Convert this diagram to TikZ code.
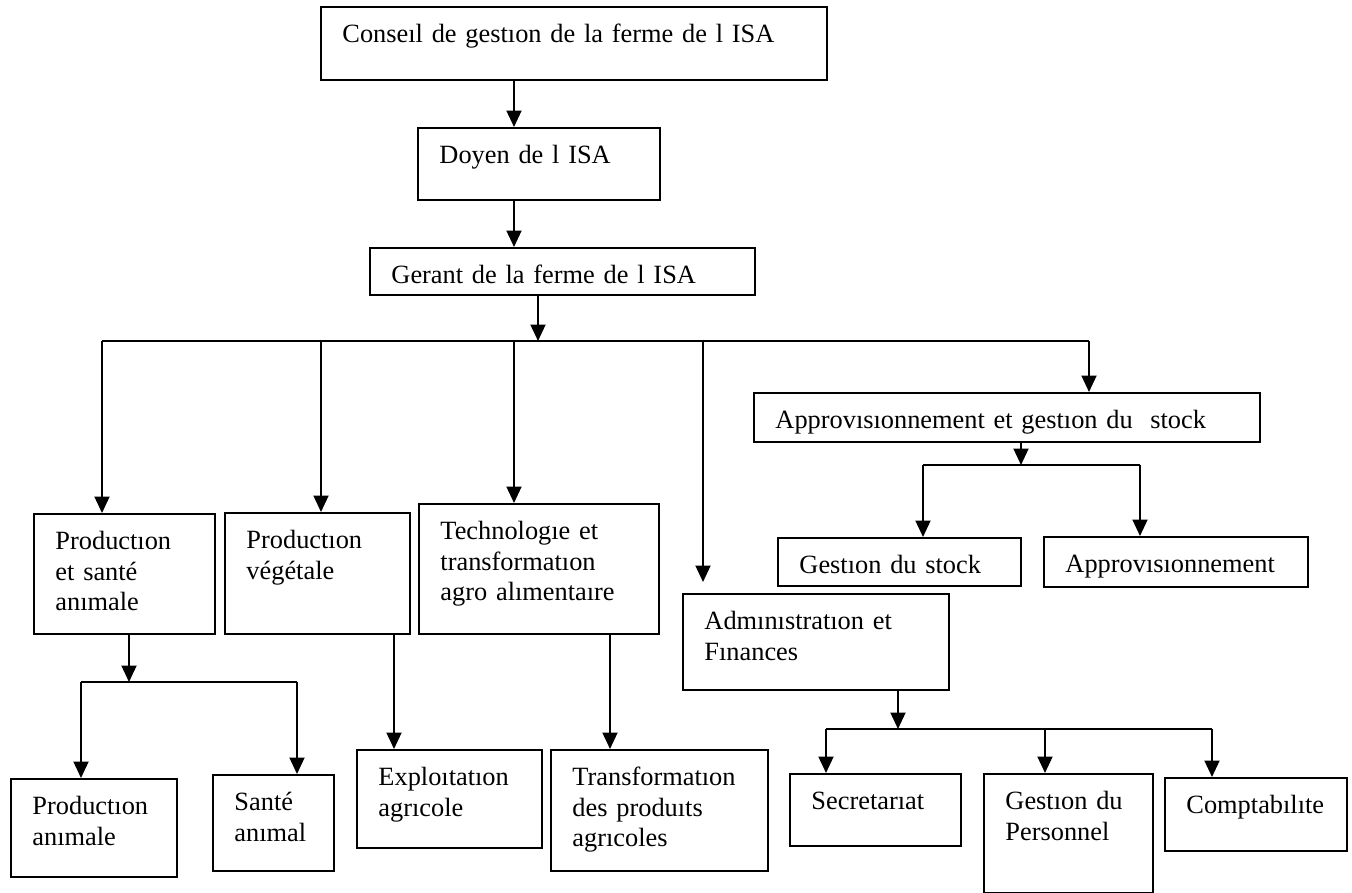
\documentclass[tikz,border=0pt]{standalone}
\usepackage{fontspec}
\setmainfont{Liberation Serif}
\usetikzlibrary{arrows.meta}
\hyphenpenalty=10000
\tikzset{
  orgbox/.style={draw, anchor=north west, align=left, inner xsep=4.3mm,
    inner ysep=0pt, text height=7.1mm, font=\fontsize{15}{17.4}\selectfont},
  arr/.style={-{Triangle[length=3.3mm,width=3mm]}}
}
\begin{document}
\begin{tikzpicture}[x=0.2mm, y=-0.2mm, line width=1.1pt]
  \useasboundingbox (0,0) rectangle (1352,893);

  \node[orgbox, text width=92.6mm, text depth=7.5mm] (conseil) at (320,6)
  {Conseıl de gestıon de la ferme de l ISA};
  \node[orgbox, text width=39.8mm, text depth=7.3mm] (doyen) at (417,127)
  {Doyen de l ISA};
  \node[orgbox, text width=68.4mm, text depth=2.3mm] (gerant) at (369,247)
  {Gerant de la ferme de l ISA};

  \node[orgbox, text width=27.6mm, text depth=16.9mm] (prodanim) at (33,513)
  {Productıon\\ et santé\\ anımale};
  \node[orgbox, text width=28.4mm, text depth=17.1mm] (prodveg) at (224,512)
  {Productıon\\ végétale};
  \node[orgbox, text width=39.4mm, text depth=18.9mm] (techno) at (418,503)
  {Technologıe et\\ transformatıon\\ agro alımentaıre};
  \node[orgbox, text width=44.6mm, text depth=12.1mm] (admin) at (682,593)
  {Admınıstratıon et\\ Fınances};
  \node[orgbox, text width=92.6mm, text depth=2.7mm] (appro) at (753,392)
  {Approvısıonnement et gestıon du~ stock};

  \node[orgbox, text width=40.0mm, text depth=2.5mm] (stock) at (777,537)
  {Gestıon du stock};
  \node[orgbox, text width=44.2mm, text depth=2.9mm] (approv) at (1043,536)
  {Approvısıonnement};

  \node[orgbox, text width=24.6mm, text depth=12.5mm] (prodanimale) at (10,778)
  {Productıon\\ anımale};
  \node[orgbox, text width=15.6mm, text depth=12.1mm] (sante) at (212,774)
  {Santé\\ anımal};
  \node[orgbox, text width=28.4mm, text depth=12.5mm] (exploit) at (356,749)
  {Exploıtatıon\\ agrıcole};
  \node[orgbox, text width=34.8mm, text depth=17.1mm] (transf) at (550,749)
  {Transformatıon\\ des produıts\\ agrıcoles};
  \node[orgbox, text width=25.6mm, text depth=7.3mm] (secr) at (789,773)
  {Secretarıat};
  \node[orgbox, text width=25.2mm, text depth=16.7mm] (gestpers) at (983,773)
  {Gestıon du\\ Personnel};
  \node[orgbox, text width=27.8mm, text depth=7.5mm] (compta) at (1164,777)
  {Comptabılıte};

  \coordinate (b0) at (538,341);
  \coordinate (b1) at (102,341);
  \coordinate (b2) at (321,341);
  \coordinate (b3) at (514,341);
  \coordinate (b4) at (703,341);
  \coordinate (b5) at (1089,341);
  \coordinate (s0) at (1021,465);
  \coordinate (s1) at (923,465);
  \coordinate (s2) at (1140,465);
  \coordinate (p0) at (129,682);
  \coordinate (p1) at (81,682);
  \coordinate (p2) at (297,682);
  \coordinate (a0) at (898,729);
  \coordinate (a1) at (826,729);
  \coordinate (a2) at (1045,729);
  \coordinate (a3) at (1212,729);

  \draw[arr] (conseil.south -| b3) -- (doyen.north -| b3);
  \draw[arr] (doyen.south -| b3) -- (gerant.north -| b3);
  \draw[arr] (gerant.south -| b0) -- (b0);
  \draw (b1) -- (b5);
  \draw[arr] (b1) -- (b1 |- prodanim.north);
  \draw[arr] (b2) -- (b2 |- prodveg.north);
  \draw[arr] (b3) -- (b3 |- techno.north);
  \draw[arr, shorten >=2.2mm] (b4) -- (b4 |- admin.north);
  \draw[arr] (b5) -- (b5 |- appro.north);

  \draw[arr] (appro.south -| s0) -- (s0);
  \draw (s1) -- (s2);
  \draw[arr] (s1) -- (s1 |- stock.north);
  \draw[arr] (s2) -- (s2 |- approv.north);

  \draw[arr] (prodanim.south -| p0) -- (p0);
  \draw (p1) -- (p2);
  \draw[arr] (p1) -- (p1 |- prodanimale.north);
  \draw[arr] (p2) -- (p2 |- sante.north);

  \draw[arr] (prodveg.south -| 394,0) -- (exploit.north -| 394,0);
  \draw[arr] (techno.south -| 610,0) -- (transf.north -| 610,0);

  \draw[arr] (admin.south -| a0) -- (a0);
  \draw (a1) -- (a3);
  \draw[arr] (a1) -- (a1 |- secr.north);
  \draw[arr] (a2) -- (a2 |- gestpers.north);
  \draw[arr] (a3) -- (a3 |- compta.north);
\end{tikzpicture}
\end{document}
